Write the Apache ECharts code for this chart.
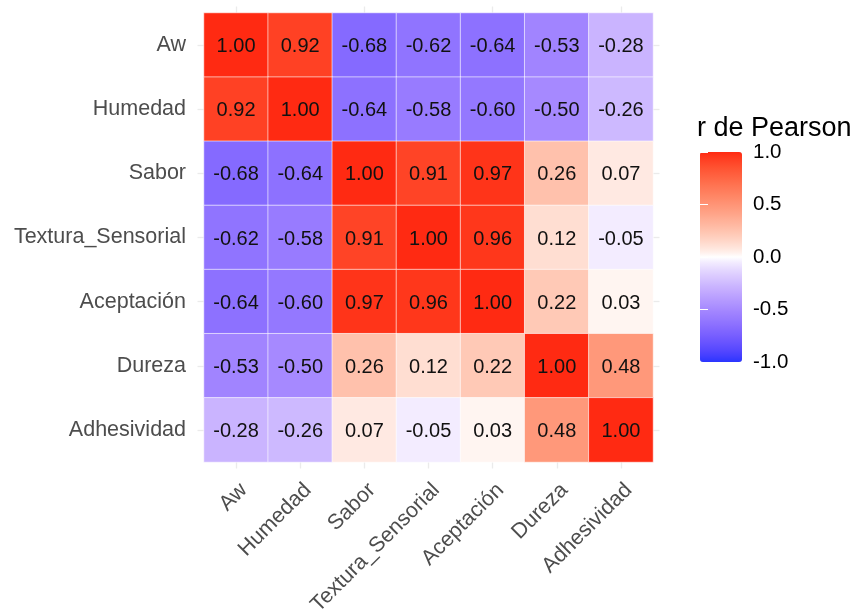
<!DOCTYPE html>
<html>
<head>
<meta charset="utf-8">
<script src="https://cdn.jsdelivr.net/npm/echarts@6/dist/echarts.min.js"></script>
<style>
  html, body { margin: 0; padding: 0; background: #ffffff; }
  #chart { width: 857px; height: 610px; }
</style>
</head>
<body>
<div id="chart"></div>
<script>
// Variables of the correlation matrix (same order on both axes)
const variables = ['Aw', 'Humedad', 'Sabor', 'Textura_Sensorial', 'Aceptación', 'Dureza', 'Adhesividad'];

// Pearson correlation coefficients, one row per variable
const rowAw          = [ 1.00,  0.92, -0.68, -0.62, -0.64, -0.53, -0.28];
const rowHumedad     = [ 0.92,  1.00, -0.64, -0.58, -0.60, -0.50, -0.26];
const rowSabor       = [-0.68, -0.64,  1.00,  0.91,  0.97,  0.26,  0.07];
const rowTextura     = [-0.62, -0.58,  0.91,  1.00,  0.96,  0.12, -0.05];
const rowAceptacion  = [-0.64, -0.60,  0.97,  0.96,  1.00,  0.22,  0.03];
const rowDureza      = [-0.53, -0.50,  0.26,  0.12,  0.22,  1.00,  0.48];
const rowAdhesividad = [-0.28, -0.26,  0.07, -0.05,  0.03,  0.48,  1.00];

const matrix = [rowAw, rowHumedad, rowSabor, rowTextura, rowAceptacion, rowDureza, rowAdhesividad];

// Colour bar tick labels
const legendTicks = [-1.0, -0.5, 0.0, 0.5, 1.0];

// Heatmap cells: [column, row, r]
const cells = [];
matrix.forEach((row, i) => {
  row.forEach((v, j) => { cells.push([j, i, v]); });
});

// Diverging scale blue - white - red, interpolated in CIE Lab
function srgbToLinear(c) { c /= 255; return c <= 0.04045 ? c / 12.92 : Math.pow((c + 0.055) / 1.055, 2.4); }
function linearToSrgb(c) { c = c <= 0.0031308 ? 12.92 * c : 1.055 * Math.pow(c, 1 / 2.4) - 0.055; return Math.round(Math.min(1, Math.max(0, c)) * 255); }
function hexToRgb(h) { return [parseInt(h.slice(1, 3), 16), parseInt(h.slice(3, 5), 16), parseInt(h.slice(5, 7), 16)]; }
const WX = 0.95047, WY = 1.0, WZ = 1.08883;
function rgbToLab(rgb) {
  const [r, g, b] = rgb.map(srgbToLinear);
  const x = (r * 0.4124 + g * 0.3576 + b * 0.1805) / WX;
  const y = (r * 0.2126 + g * 0.7152 + b * 0.0722) / WY;
  const z = (r * 0.0193 + g * 0.1192 + b * 0.9505) / WZ;
  const f = t => t > 0.008856 ? Math.cbrt(t) : 7.787 * t + 16 / 116;
  return [116 * f(y) - 16, 500 * (f(x) - f(y)), 200 * (f(y) - f(z))];
}
function labToHex(lab) {
  const fy = (lab[0] + 16) / 116, fx = fy + lab[1] / 500, fz = fy - lab[2] / 200;
  const inv = t => (t * t * t > 0.008856 ? t * t * t : (t - 16 / 116) / 7.787);
  const x = inv(fx) * WX, y = inv(fy) * WY, z = inv(fz) * WZ;
  const r = x * 3.2406 + y * -1.5372 + z * -0.4986;
  const g = x * -0.9689 + y * 1.8758 + z * 0.0415;
  const b = x * 0.0557 + y * -0.2040 + z * 1.0570;
  return '#' + [r, g, b].map(c => linearToSrgb(c).toString(16).padStart(2, '0')).join('');
}
const lowLab = rgbToLab(hexToRgb('#2a35ff'));
const midLab = rgbToLab(hexToRgb('#ffffff'));
const highLab = rgbToLab(hexToRgb('#ff2a12'));
const rampColors = [];
for (let k = 0; k <= 40; k++) {
  const v = -1 + k / 20;
  const a = v < 0 ? lowLab : highLab;
  const t = Math.pow(Math.abs(v), 0.8);   // slightly punchier saturation towards the ends
  rampColors.push(labToHex([0, 1, 2].map(n => midLab[n] + (a[n] - midLab[n]) * t)));
}

const FONT = 'Liberation Sans, Arial, Helvetica, sans-serif';
const GRID_COLOR = '#ebebeb';

const tickStyle = { show: true, alignWithLabel: true, length: 6.5, lineStyle: { color: GRID_COLOR, width: 1.3 } };

const chart = echarts.init(document.getElementById('chart'), null, { renderer: 'canvas' });

chart.setOption({
  backgroundColor: '#ffffff',
  animation: false,
  title: {
    text: 'r de Pearson',
    left: 697,
    top: 115,
    padding: 0,
    textStyle: { fontFamily: FONT, fontSize: 27, fontWeight: 'normal', color: '#000000' }
  },
  grid: [
    { left: 204, top: 13, width: 449, height: 449, containLabel: false, outerBoundsMode: 'none' },
    { left: 700, top: 152, width: 42, height: 210, containLabel: false, outerBoundsMode: 'none' }
  ],
  xAxis: [
    {
      type: 'category', gridIndex: 0, data: variables, position: 'bottom',
      axisLine: { show: false }, axisTick: tickStyle, splitLine: { show: false },
      axisLabel: {
        rotate: 45, margin: 17, verticalAlign: 'top',
        fontFamily: FONT, fontSize: 21.5, color: '#4d4d4d', interval: 0
      }
    },
    {
      type: 'category', gridIndex: 0, data: variables, position: 'top',
      axisLine: { show: false }, axisTick: tickStyle, axisLabel: { show: false }, splitLine: { show: false }
    },
    { type: 'value', gridIndex: 1, min: 0, max: 1, show: false }
  ],
  yAxis: [
    {
      type: 'category', gridIndex: 0, data: variables, inverse: true, position: 'left',
      axisLine: { show: false }, axisTick: tickStyle, splitLine: { show: false },
      axisLabel: {
        margin: 18, padding: [4, 0, 0, 0],
        fontFamily: FONT, fontSize: 21.5, color: '#4d4d4d', interval: 0
      }
    },
    {
      type: 'category', gridIndex: 0, data: variables, inverse: true, position: 'right',
      axisLine: { show: false }, axisTick: tickStyle, axisLabel: { show: false }, splitLine: { show: false }
    },
    {
      type: 'value', gridIndex: 1, min: legendTicks[0], max: legendTicks[legendTicks.length - 1], interval: 0.5,
      position: 'right', z: 10,
      axisLine: { show: false }, splitLine: { show: false },
      axisTick: { show: true, inside: true, length: 8, lineStyle: { color: '#ffffff', width: 1 } },
      axisLabel: { margin: 11, fontFamily: FONT, fontSize: 20.5, color: '#000000', formatter: v => v.toFixed(1) }
    },
    {
      type: 'value', gridIndex: 1, min: legendTicks[0], max: legendTicks[legendTicks.length - 1], interval: 0.5,
      position: 'left', z: 10,
      axisLine: { show: false }, splitLine: { show: false }, axisLabel: { show: false },
      axisTick: { show: true, inside: true, length: 8, lineStyle: { color: '#ffffff', width: 1 } }
    }
  ],
  visualMap: {
    type: 'continuous',
    min: -1,
    max: 1,
    seriesIndex: 0,
    dimension: 2,
    calculable: false,
    realtime: false,
    left: 700,
    top: 152,
    padding: 0,
    itemWidth: 42,
    itemHeight: 210,
    text: null,
    showLabel: false,
    inRange: { color: rampColors }
  },
  series: [
    {
      type: 'heatmap',
      xAxisIndex: 0,
      yAxisIndex: 0,
      data: cells,
      itemStyle: { borderColor: '#ffffff', borderWidth: 0.6 },
      label: {
        show: true,
        offset: [0, 1.5],
        fontFamily: FONT,
        fontSize: 20,
        color: '#111111',
        formatter: p => p.value[2].toFixed(2)
      },
      emphasis: { disabled: true }
    },
    {
      type: 'line',
      xAxisIndex: 2,
      yAxisIndex: 2,
      data: [],
      silent: true
    }
  ]
});
</script>
</body>
</html>
